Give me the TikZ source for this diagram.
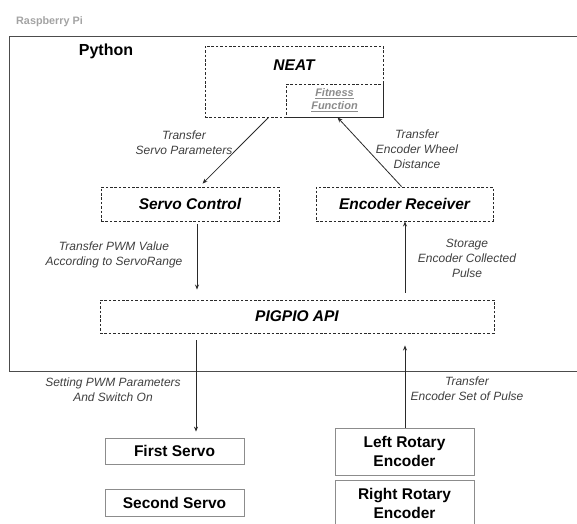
\documentclass[tikz,border=0pt]{standalone}
\usepackage{fontspec}
\setmainfont{Liberation Sans}
\usetikzlibrary{calc,arrows.meta}
\definecolor{dk}{HTML}{2A2A2A}
\definecolor{gr}{HTML}{8C8C8C}
\begin{document}
\begin{tikzpicture}[x=1pt,y=-1pt,
  dbox/.style={draw=dk,line width=0.9pt,dash pattern=on 2.6pt off 1.8pt,inner sep=0pt},
  sbox/.style={draw=gr,line width=0.8pt,inner sep=0pt,fill=white,align=center,font=\fontsize{15.5}{19}\selectfont\bfseries},
  ttl/.style={font=\fontsize{15.5}{19}\selectfont\bfseries\itshape},
  lbl/.style={font=\fontsize{12}{15}\selectfont\itshape,text=dk!90,align=center,inner sep=0pt},
  arr/.style={draw=dk,line width=0.8pt,-{Stealth[length=5pt,width=4pt]}}]
\useasboundingbox (0,0) rectangle (577,523);
% outer python box
\node[draw=black!70,line width=1.3pt,minimum width=590pt,minimum height=335pt,anchor=north west,inner sep=0pt] (py) at (9,36) {};
\node[anchor=west,text=gr!80,font=\fontsize{10.8}{13}\selectfont\bfseries,inner sep=0pt] (rpi) at (16,22) {Raspberry Pi};
\node[font=\fontsize{16}{19}\selectfont\bfseries,inner sep=0pt] (pyt) at (106,51) {Python};
% NEAT
\node[dbox,minimum width=178pt,minimum height=71pt] (neat) at (294,81.5) {};
\node[ttl,inner sep=0pt] (neattxt) at (294,65) {NEAT};
\node[dbox,minimum width=97pt,minimum height=33pt,align=center,text=gr,font=\fontsize{11}{14}\selectfont\bfseries\itshape] (fit) at (334.5,100.5) {\underline{Fitness}\\[-1pt]\underline{Function}};
% middle boxes
\node[dbox,ttl,minimum width=178pt,minimum height=34pt] (servo) at (190,204) {Servo Control};
\node[dbox,ttl,minimum width=177pt,minimum height=34pt] (enc) at (404.5,204) {Encoder Receiver};
\node[dbox,ttl,minimum width=394pt,minimum height=33pt] (pig) at (297,316.5) {PIGPIO API};
% hardware boxes
\node[sbox,minimum width=139pt,minimum height=26pt] (first) at (174.5,451) {First Servo};
\node[sbox,minimum width=139pt,minimum height=27pt] (second) at (174.5,502.5) {Second Servo};
\node[sbox,minimum width=139pt,minimum height=47pt] (left) at (404.5,451.5) {Left Rotary\\Encoder};
\node[sbox,minimum width=139pt,minimum height=47pt] (right) at (404.5,503.5) {Right Rotary\\Encoder};
% arrows
\draw[arr] ($(neat.south west)+(64,0)$) -- ($(servo.north west)+(102,-3)$);
\draw[arr] ($(enc.north west)+(86,0)$) -- ($(fit.south west)+(52,0)$);
\draw[arr] ($(servo.south)+(7,3)$) -- ($(pig.north)+(-100,-10)$);
\draw[arr] ($(pig.north)+(108,-7)$) -- ($(enc.south)+(0.5,0)$);
\draw[arr] ($(pig.south)+(-101,7)$) -- ($(first.north)+(21.5,-6)$);
\draw[arr] ($(left.north)+(0.5,0)$) -- ($(pig.south)+(108,12)$);
% labels
\node[lbl] (l1) at (184,143) {Transfer\\Servo Parameters};
\node[lbl] (l2) at (417,149) {Transfer\\Encoder Wheel\\Distance};
\node[lbl] (l3) at (114,254.5) {Transfer PWM Value\\According to ServoRange};
\node[lbl] (l4) at (467,258) {Storage\\Encoder Collected\\Pulse};
\node[lbl] (l5) at (113,389.5) {Setting PWM Parameters\\And Switch On};
\node[lbl] (l6) at (467,389) {Transfer\\Encoder Set of Pulse};
\end{tikzpicture}
\end{document}
